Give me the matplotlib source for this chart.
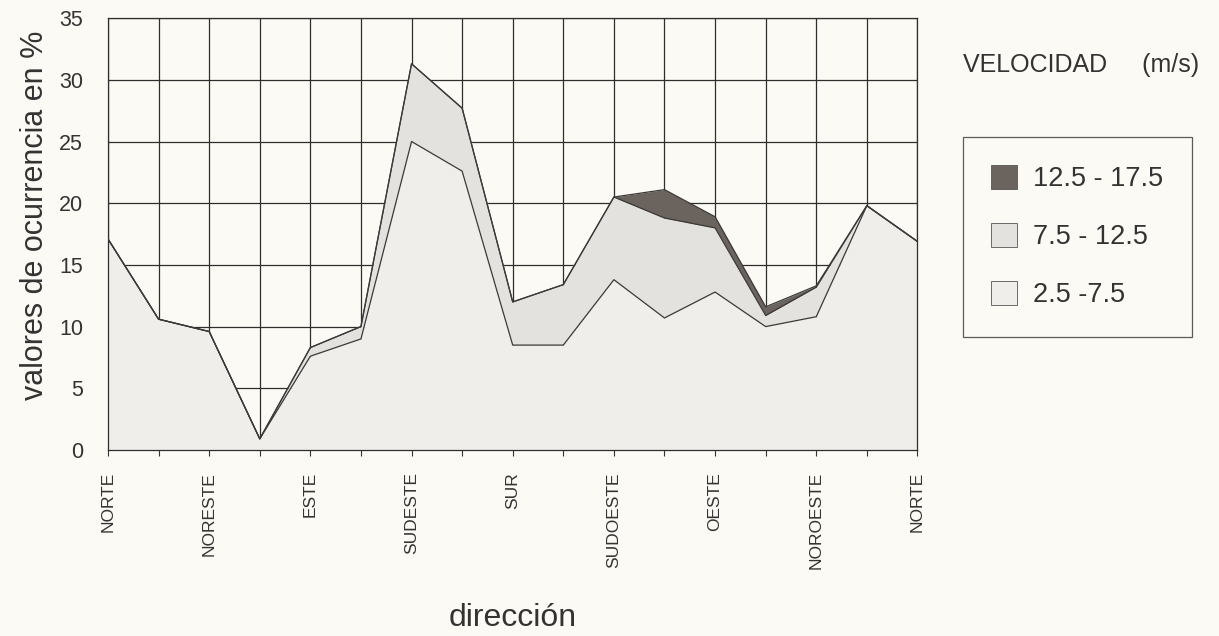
import numpy as np
import matplotlib
matplotlib.use('Agg')
from matplotlib import pyplot as plt

plt.rcParams['font.family'] = ['Liberation Sans', 'DejaVu Sans']

# 17 puntos: NORTE ... NORTE (rosa de 16 direcciones cerrada)
direcciones = ['NORTE', '', 'NORESTE', '', 'ESTE', '', 'SUDESTE', '', 'SUR', '',
               'SUDOESTE', '', 'OESTE', '', 'NOROESTE', '', 'NORTE']
v_baja = [17.1, 10.6, 9.6, 0.9, 7.6, 9.0, 25.0, 22.6, 8.5, 8.5,
          13.8, 10.7, 12.8, 10.0, 10.8, 19.8, 16.9]          # 2.5 - 7.5
v_media = [0, 0, 0, 0, 0.7, 1.0, 6.3, 5.1, 3.5, 4.9,
           6.7, 8.1, 5.2, 0.9, 2.4, 0, 0]                      # 7.5 - 12.5
v_alta = [0, 0, 0, 0, 0, 0, 0, 0, 0, 0,
          0, 2.3, 0.9, 0.7, 0.1, 0, 0]                         # 12.5 - 17.5
etiquetas = ['2.5 -7.5', '7.5 - 12.5', '12.5 - 17.5']

bg = '#fbfaf4'
x = np.arange(len(direcciones))
y1 = np.array(v_baja)
y2 = y1 + np.array(v_media)
y3 = y2 + np.array(v_alta)

fig = plt.figure(figsize=(12.19, 6.36), dpi=100, facecolor=bg)
ax = fig.add_axes([0.0886, 0.2925, 0.664, 0.679])
ax.set_facecolor(bg)

f1 = ax.fill_between(x, 0, y1, color='#efeeea', lw=0, zorder=2)
f2 = ax.fill_between(x, y1, y2, color='#e4e2de', lw=0, zorder=2)
f3 = ax.fill_between(x, y2, y3, color='#6b635d', lw=0, zorder=2)
for y in (y1, y2, y3):
    ax.plot(x, y, color='#3a3a3a', lw=0.9, zorder=3)

ax.set_xlim(0, 16)
ax.set_ylim(0, 35)
ax.set_yticks(np.arange(0, 36, 5))
ax.set_xticks(x)
ax.set_xticklabels(direcciones, rotation=90, fontsize=12.5, color='#333333')
ax.tick_params(axis='x', length=4, color='#333333', pad=12)
ax.tick_params(axis='y', length=0, labelsize=15.5, pad=18, colors='#333333')
ax.grid(True, color='#2e2e2e', lw=0.9, zorder=1)
ax.set_axisbelow(True)
for s in ax.spines.values():
    s.set_color('#2e2e2e')
    s.set_linewidth(0.9)

ax.set_ylabel('valores de ocurrencia en %', fontsize=22, color='#333333')
ax.yaxis.set_label_coords(-0.072, 0.544)
ax.set_xlabel('dirección', fontsize=23, color='#333333')
ax.xaxis.set_label_coords(0.5, -0.355)

fig.text(0.79, 0.898, 'VELOCIDAD     (m/s)', fontsize=18, color='#333333', va='center')
leg = fig.legend([f3, f2, f1], etiquetas[::-1], loc='upper left',
                 bbox_to_anchor=(0.79, 0.785), fontsize=19.5, frameon=True,
                 fancybox=False, edgecolor='#333333', facecolor=bg,
                 handlelength=0.95, handleheight=0.95, labelspacing=1.15,
                 borderpad=1.05, handletextpad=0.6, borderaxespad=0)
leg.get_frame().set_linewidth(0.9)
for h in leg.legend_handles:
    h.set_edgecolor('#555555')
    h.set_linewidth(0.6)
for t in leg.get_texts():
    t.set_color('#333333')

plt.savefig('out.png', dpi=100, facecolor=bg)
